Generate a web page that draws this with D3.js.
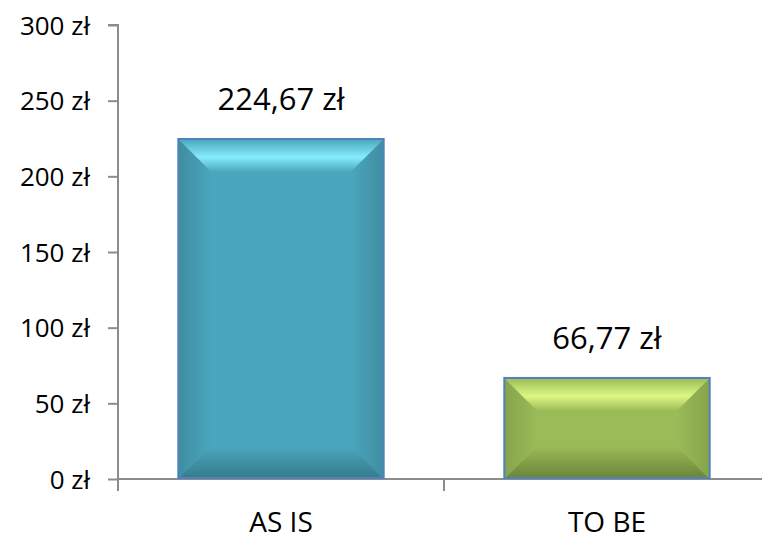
<!DOCTYPE html>
<html>
<head>
<meta charset="utf-8">
<script src="https://cdn.jsdelivr.net/npm/d3@7"></script>
<style>
  body { margin: 0; background: #fff; }
  svg text { font-family: "Open Sans", "Noto Sans", sans-serif; fill: #000; }
</style>
</head>
<body>
<svg id="chart" width="762" height="542"></svg>
<script>
// data
const categories = ['AS IS', 'TO BE'];
const values = [224.67, 66.77];
const yTicks = [0, 50, 100, 150, 200, 250, 300];
const valueLabels = ['224,67 zł', '66,77 zł'];

const palettes = [
  { base: '#4aa6bd', light: '#86ecfb', dark: '#367a8c', side: '#3f8da1' },
  { base: '#9bbb59', light: '#dcf783', dark: '#6a8337', side: '#86a34a' },
];

const svg = d3.select('#chart');
const margin = { left: 118, top: 25, bottom: 63 };
const width = 770;
const height = 542;

const x = d3.scaleBand()
  .domain(categories)
  .range([margin.left, width])
  .paddingInner(0.37)
  .paddingOuter(0.185);

const y = d3.scaleLinear()
  .domain([0, 300])
  .range([height - margin.bottom, margin.top]);

const defs = svg.append('defs');
palettes.forEach((p, i) => {
  const top = defs.append('linearGradient').attr('id', 'top' + i)
    .attr('x1', 0).attr('y1', 0).attr('x2', 0).attr('y2', 1);
  top.append('stop').attr('offset', '0%').attr('stop-color', p.base);
  top.append('stop').attr('offset', '55%').attr('stop-color', p.light);
  top.append('stop').attr('offset', '100%').attr('stop-color', p.base);

  const bot = defs.append('linearGradient').attr('id', 'bot' + i)
    .attr('x1', 0).attr('y1', 0).attr('x2', 0).attr('y2', 1);
  bot.append('stop').attr('offset', '0%').attr('stop-color', p.base);
  bot.append('stop').attr('offset', '100%').attr('stop-color', p.dark);

  const left = defs.append('linearGradient').attr('id', 'left' + i)
    .attr('x1', 0).attr('y1', 0).attr('x2', 1).attr('y2', 0);
  left.append('stop').attr('offset', '0%').attr('stop-color', p.side);
  left.append('stop').attr('offset', '100%').attr('stop-color', p.base);

  const right = defs.append('linearGradient').attr('id', 'right' + i)
    .attr('x1', 0).attr('y1', 0).attr('x2', 1).attr('y2', 0);
  right.append('stop').attr('offset', '0%').attr('stop-color', p.base);
  right.append('stop').attr('offset', '100%').attr('stop-color', p.side);
});

// axes
const yAxis = svg.append('g')
  .attr('transform', `translate(${margin.left},0)`)
  .call(d3.axisLeft(y).tickValues(yTicks).tickSize(10).tickPadding(18)
    .tickFormat(d => d + ' zł'));
yAxis.selectAll('path, line').attr('stroke', '#8c8c8c').attr('stroke-width', 2);
yAxis.selectAll('text').style('font-size', '26px').attr('dy', '0.35em');
yAxis.select('.domain').attr('d', `M-10,${y(300)}H0V${y(0)}`);

const xAxis = svg.append('g')
  .attr('transform', `translate(0,${y(0)})`);
xAxis.append('line')
  .attr('x1', margin.left).attr('x2', width)
  .attr('stroke', '#8c8c8c').attr('stroke-width', 2);
const bounds = [margin.left, (x(categories[0]) + x.bandwidth() + x(categories[1])) / 2, width];
xAxis.selectAll('.xt').data(bounds).join('line')
  .attr('x1', d => d).attr('x2', d => d).attr('y1', 0).attr('y2', 12)
  .attr('stroke', '#8c8c8c').attr('stroke-width', 2);

// bars with bevel
const bev = 33;
categories.forEach((c, i) => {
  const x0 = x(c), x1 = x0 + x.bandwidth();
  const y0 = y(values[i]), y1 = y(0);
  const g = svg.append('g');
  const b = Math.min(bev, (y1 - y0) / 2);
  g.append('rect').attr('x', x0).attr('y', y0).attr('width', x1 - x0).attr('height', y1 - y0)
    .attr('fill', palettes[i].base);
  g.append('path').attr('fill', `url(#left${i})`)
    .attr('d', `M${x0},${y0}L${x0 + bev},${y0 + b}L${x0 + bev},${y1 - b}L${x0},${y1}Z`);
  g.append('path').attr('fill', `url(#right${i})`)
    .attr('d', `M${x1},${y0}L${x1 - bev},${y0 + b}L${x1 - bev},${y1 - b}L${x1},${y1}Z`);
  g.append('path').attr('fill', `url(#top${i})`)
    .attr('d', `M${x0},${y0}L${x1},${y0}L${x1 - bev},${y0 + b}L${x0 + bev},${y0 + b}Z`);
  g.append('path').attr('fill', `url(#bot${i})`)
    .attr('d', `M${x0},${y1}L${x1},${y1}L${x1 - bev},${y1 - b}L${x0 + bev},${y1 - b}Z`);
  g.append('rect').attr('x', x0).attr('y', y0).attr('width', x1 - x0).attr('height', y1 - y0 - 1)
    .attr('fill', 'none').attr('stroke', '#4f81bd').attr('stroke-width', 2);

  svg.append('text')
    .attr('x', (x0 + x1) / 2).attr('y', y0 - 29)
    .attr('text-anchor', 'middle').style('font-size', '31px')
    .text(valueLabels[i]);

  svg.append('text')
    .attr('x', (x0 + x1) / 2).attr('y', 532)
    .attr('text-anchor', 'middle').style('font-size', '28px')
    .text(c);
});
</script>
</body>
</html>
